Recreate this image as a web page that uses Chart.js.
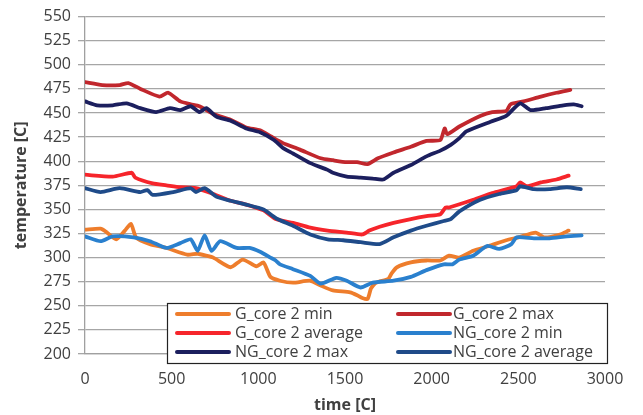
<!DOCTYPE html>
<html>
<head>
<meta charset="utf-8">
<script src="https://cdn.jsdelivr.net/npm/chart.js@4"></script>
<style>
html,body{margin:0;padding:0;background:#fff;}
#wrap{width:643px;height:415px;position:relative;}
</style>
</head>
<body>
<div id="wrap"><canvas id="c" width="643" height="415"></canvas></div>
<script>
// ---- data (time, temperature) ----
const seriesNames = ["G_core 2 min", "G_core 2 max", "G_core 2 average", "NG_core 2 min", "NG_core 2 max", "NG_core 2 average"];

const gMinT = [0, 90, 120, 180, 230, 265, 295, 375, 470, 590, 650, 700, 740, 840, 910, 990, 1030, 1070, 1125, 1200, 1300, 1360, 1430, 1530, 1570, 1600, 1630, 1650, 1680, 1750, 1770, 1800, 1880, 1970, 2050, 2100, 2160, 2240, 2330, 2430, 2500, 2600, 2650, 2740, 2790];
const gMinV = [329, 330, 327, 319, 328, 335, 321, 314, 310, 303, 304, 302, 300, 290, 298, 291, 295, 280, 276, 274, 276, 271, 266, 264, 261, 258, 257, 268, 274, 278, 284, 290, 295, 297, 297, 302, 300, 307, 312, 318, 321, 326, 321, 324, 328];

const gMaxT = [0, 100, 200, 250, 320, 430, 480, 550, 610, 660, 740, 840, 930, 1010, 1070, 1140, 1240, 1360, 1430, 1510, 1570, 1630, 1690, 1780, 1880, 1970, 2050, 2075, 2090, 2160, 2280, 2350, 2430, 2455, 2530, 2630, 2720, 2800];
const gMaxV = [482, 479, 479, 481, 475, 467, 471, 462, 459, 457, 449, 443, 435, 432, 426, 419, 412, 403, 401, 399, 399, 397, 403, 409, 415, 421, 422, 434, 428, 436, 447, 451, 452, 459, 462, 467, 471, 474];

const gAvgT = [0, 160, 270, 290, 390, 470, 550, 640, 740, 840, 930, 1030, 1100, 1200, 1300, 1400, 1510, 1600, 1640, 1700, 1780, 1880, 1970, 2050, 2080, 2100, 2240, 2350, 2490, 2510, 2550, 2630, 2720, 2790];
const gAvgV = [386, 384, 388, 383, 377, 375, 373, 372, 366, 359, 355, 349, 340, 336, 331, 328, 326, 324, 328, 332, 336, 340, 343, 345, 352, 352, 360, 367, 374, 378, 374, 378, 381, 385];

const ngMinT = [0, 90, 160, 280, 375, 470, 550, 610, 650, 690, 730, 780, 875, 950, 1010, 1070, 1100, 1125, 1200, 1300, 1360, 1450, 1510, 1590, 1660, 1780, 1880, 1970, 2070, 2120, 2160, 2240, 2320, 2390, 2460, 2490, 2590, 2680, 2780, 2865];
const ngMinV = [322, 317, 322, 321, 317, 310, 315, 319, 307, 323, 307, 317, 310, 310, 306, 300, 297, 293, 288, 281, 273, 279, 276, 269, 274, 276, 280, 287, 293, 293, 298, 302, 312, 309, 314, 321, 320, 320, 322, 323];

const ngMaxT = [0, 70, 160, 240, 320, 410, 490, 550, 610, 660, 700, 760, 840, 930, 1010, 1090, 1140, 1200, 1300, 1400, 1430, 1510, 1590, 1660, 1720, 1780, 1880, 1970, 2050, 2110, 2160, 2200, 2340, 2430, 2510, 2570, 2660, 2760, 2820, 2865];
const ngMaxV = [462, 458, 458, 460, 455, 451, 455, 453, 457, 451, 455, 446, 442, 434, 430, 422, 414, 408, 398, 391, 388, 384, 383, 382, 381, 388, 396, 405, 411, 417, 424, 431, 441, 447, 460, 453, 455, 458, 459, 457];

const ngAvgT = [0, 90, 200, 320, 360, 390, 510, 610, 640, 690, 760, 840, 930, 1030, 1070, 1110, 1200, 1300, 1400, 1490, 1590, 1700, 1780, 1880, 1970, 2070, 2110, 2160, 2280, 2390, 2490, 2510, 2590, 2680, 2780, 2860];
const ngAvgV = [372, 368, 372, 368, 370, 365, 368, 372, 368, 372, 363, 359, 355, 350, 345, 340, 333, 324, 319, 318, 316, 314, 321, 328, 333, 338, 340, 348, 360, 366, 370, 374, 371, 371, 373, 371];

const seriesT = [gMinT, gMaxT, gAvgT, ngMinT, ngMaxT, ngAvgT];
const seriesV = [gMinV, gMaxV, gAvgV, ngMinV, ngMaxV, ngAvgV];
const colors = ["#EE7D2C", "#C1272D", "#F6252B", "#2A80CE", "#1C1F5E", "#1F4B89"];

const yTickMin = 200, yTickMax = 550, yTickStep = 25;
const xTickMin = 0, xTickMax = 3000, xTickStep = 500;

const FONT = "'Open Sans', 'Noto Sans', sans-serif";
const TXT = "#404040";

const datasets = seriesNames.map((name, i) => ({
  label: name,
  data: seriesT[i].map((t, k) => ({x: t, y: seriesV[i][k]})),
  borderColor: colors[i],
  backgroundColor: colors[i],
  borderWidth: 3.8,
  pointRadius: 0,
  tension: 0.2,
  fill: false,
  borderCapStyle: 'round',
  borderJoinStyle: 'round',
  order: seriesNames.length - i
}));

const legendBox = {
  id: 'legendBox',
  afterDraw(chart) {
    const ctx = chart.ctx;
    const x0 = 167, y0 = 303, w = 440, h = 60;
    ctx.save();
    ctx.fillStyle = '#fff';
    ctx.fillRect(x0, y0, w, h);
    ctx.strokeStyle = '#222';
    ctx.lineWidth = 1.2;
    ctx.strokeRect(x0 + 0.5, y0 + 0.5, w, h);
    ctx.font = "16px " + FONT;
    ctx.textBaseline = 'middle';
    ctx.fillStyle = TXT;
    const cols = [{lx: 177, tx: 235}, {lx: 398, tx: 453}];
    const rows = [314, 333, 352];
    chart.data.datasets.forEach((ds, i) => {
      const c = cols[i % 2], r = rows[Math.floor(i / 2)];
      ctx.strokeStyle = ds.borderColor;
      ctx.lineWidth = 4;
      ctx.lineCap = 'round';
      ctx.beginPath();
      ctx.moveTo(c.lx, r);
      ctx.lineTo(c.lx + 52, r);
      ctx.stroke();
      ctx.fillStyle = TXT;
      ctx.fillText(ds.label, c.tx, r);
    });
    ctx.restore();
  }
};

new Chart(document.getElementById('c'), {
  type: 'line',
  data: {datasets},
  options: {
    responsive: false,
    animation: false,
    layout: {padding: {top: 14, right: 38, bottom: 0, left: 0}},
    plugins: {legend: {display: false}, tooltip: {enabled: false}},
    scales: {
      x: {
        type: 'linear',
        min: xTickMin, max: xTickMax,
        ticks: {stepSize: xTickStep, color: TXT, font: {family: FONT, size: 16}, padding: 16, maxRotation: 0, callback: v => String(v)},
        grid: {display: true, drawOnChartArea: false, drawTicks: false, color: '#A0A0A0'},
        border: {display: true, color: '#A0A0A0', width: 1.3},
        title: {display: true, text: 'time [C]', color: TXT, font: {family: FONT, size: 16, weight: 'bold'}, padding: {top: 0, bottom: 0}},
        afterFit(s) { s.height = 61; }
      },
      y: {
        min: yTickMin, max: yTickMax,
        ticks: {stepSize: yTickStep, color: TXT, font: {family: FONT, size: 16}, padding: 7},
        grid: {color: '#A6A6A6', lineWidth: 1.3, tickLength: 7, drawTicks: true},
        border: {display: true, color: '#A0A0A0', width: 1.3},
        title: {display: true, text: 'temperature [C]', color: TXT, font: {family: FONT, size: 16, weight: 'bold'}, padding: {top: 12, bottom: 0}},
        afterFit(s) { s.width = 85; }
      }
    }
  },
  plugins: [legendBox]
});
</script>
</body>
</html>
